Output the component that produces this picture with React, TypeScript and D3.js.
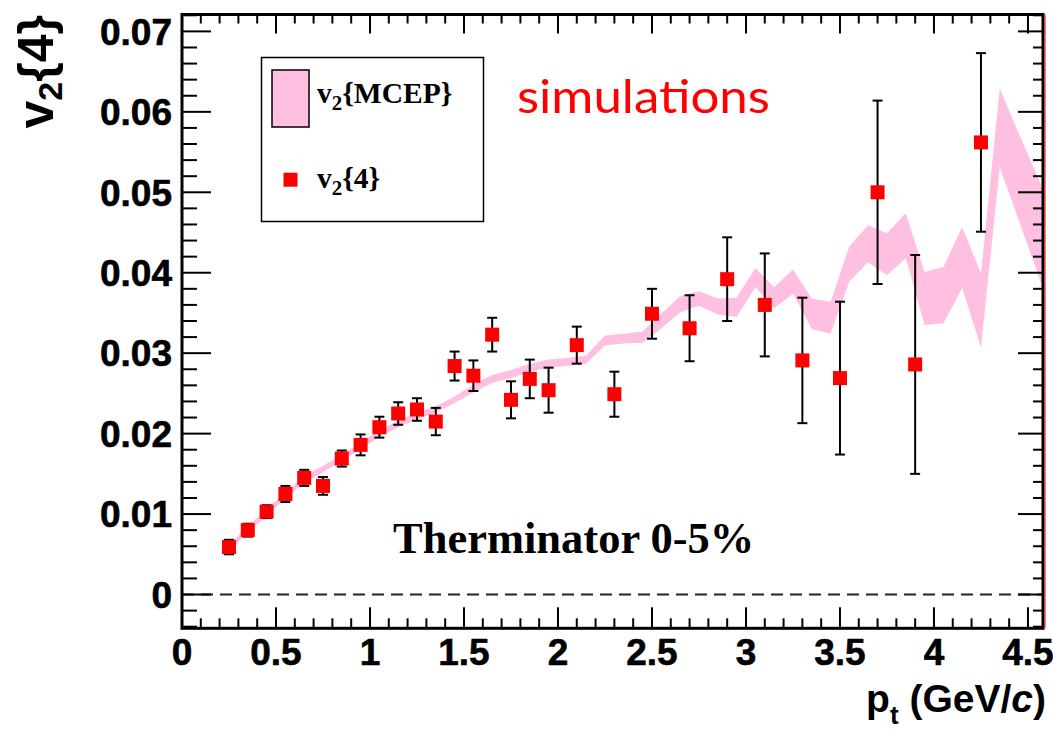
import React from "react";
import * as d3 from "d3";

// v2{4} measured points
const ptValues = [0.25, 0.35, 0.45, 0.55, 0.65, 0.75, 0.85, 0.95, 1.05, 1.15, 1.25, 1.35, 1.45, 1.55, 1.65, 1.75, 1.85, 1.95, 2.1, 2.3, 2.5, 2.7, 2.9, 3.1, 3.3, 3.5, 3.7, 3.9, 4.25];
const v24Values = [0.0059, 0.0080, 0.0103, 0.0125, 0.0145, 0.0135, 0.0169, 0.0186, 0.0208, 0.0225, 0.0230, 0.0215, 0.0284, 0.0272, 0.0323, 0.0242, 0.0268, 0.0254, 0.0310, 0.0249, 0.0349, 0.0331, 0.0392, 0.0360, 0.0291, 0.0269, 0.0500, 0.0286, 0.0562];
const v24Errors = [0.0009, 0.0008, 0.0008, 0.0010, 0.0010, 0.0011, 0.0010, 0.0013, 0.0013, 0.0014, 0.0014, 0.0017, 0.0018, 0.0019, 0.0021, 0.0023, 0.0024, 0.0028, 0.0023, 0.0028, 0.0031, 0.0041, 0.0052, 0.0064, 0.0078, 0.0095, 0.0114, 0.0136, 0.0111];

// v2{MCEP} band: bin centres, central values, half widths
const mcepPt = [0.25, 0.35, 0.45, 0.55, 0.65, 0.75, 0.85, 0.95, 1.05, 1.15, 1.25, 1.35, 1.45, 1.55, 1.65, 1.75, 1.85, 1.95, 2.05, 2.15, 2.25, 2.35, 2.45, 2.55, 2.65, 2.75, 2.85, 2.95, 3.05, 3.15, 3.25, 3.35, 3.45, 3.55, 3.65, 3.75, 3.85, 3.95, 4.05, 4.15, 4.25, 4.35, 4.45, 4.55, 4.65];
const mcepValues = [0.0058, 0.0081, 0.0102, 0.0123, 0.0143, 0.0156, 0.0170, 0.0185, 0.0200, 0.0212, 0.0222, 0.0230, 0.0242, 0.0256, 0.0268, 0.0274, 0.0282, 0.0287, 0.0289, 0.0292, 0.0316, 0.0318, 0.0320, 0.0340, 0.0361, 0.0368, 0.0358, 0.0357, 0.0394, 0.0369, 0.0389, 0.0349, 0.0344, 0.0411, 0.0436, 0.0423, 0.0446, 0.0368, 0.0372, 0.0419, 0.0353, 0.0580, 0.0520, 0.0460, 0.0400];
const mcepHalfWidths = [0.0004, 0.0004, 0.0004, 0.0004, 0.0004, 0.0004, 0.0004, 0.0004, 0.0004, 0.0004, 0.0004, 0.0004, 0.0004, 0.0005, 0.0005, 0.0005, 0.0005, 0.0005, 0.0005, 0.0005, 0.0006, 0.0006, 0.0007, 0.0009, 0.0010, 0.0009, 0.0010, 0.0012, 0.0012, 0.0013, 0.0015, 0.0019, 0.0020, 0.0022, 0.0023, 0.0026, 0.0028, 0.0033, 0.0035, 0.0038, 0.0046, 0.0049, 0.0054, 0.0060, 0.0066];

const xMajorTicks = [0, 0.5, 1, 1.5, 2, 2.5, 3, 3.5, 4, 4.5];
const xTickLabels = ["0", "0.5", "1", "1.5", "2", "2.5", "3", "3.5", "4", "4.5"];
const yMajorTicks = [0, 0.01, 0.02, 0.03, 0.04, 0.05, 0.06, 0.07];
const yTickLabels = ["0", "0.01", "0.02", "0.03", "0.04", "0.05", "0.06", "0.07"];

const W = 1053;
const H = 732;
const left = 182;
const right = 1043;
const top = 14.5;
const bottom = 628.3;

const PINK = "#ffbfe0";
const RED = "#ff0000";
const SANS = "'Liberation Sans', Arial, Helvetica, sans-serif";
const SERIF = "'Liberation Serif', 'Times New Roman', serif";

export default function App() {
  const x = d3.scaleLinear().domain([0, 4.58]).range([left, right]);
  const y = d3.scaleLinear().domain([-0.0042, 0.0721]).range([bottom, top]);

  const xMinor = d3.range(0, 46).map((i) => i / 10).filter((v) => Math.round(v * 10) % 5 !== 0);
  const yMinor = d3.range(-2, 37).map((i) => i * 0.002).filter((v) => Math.round(v * 1000) % 10 !== 0);

  const band = d3
    .area<number>()
    .x((_, i) => x(mcepPt[i]))
    .y0((_, i) => y(mcepValues[i] - mcepHalfWidths[i]))
    .y1((_, i) => y(mcepValues[i] + mcepHalfWidths[i]))
    .curve(d3.curveLinear);

  const capHalf = 5;
  const markerSize = 14;

  return (
    <svg width={W} height={H} style={{ position: "absolute", left: 0, top: 0, background: "#fff" }}>
      <defs>
        <clipPath id="plotClip">
          <rect x={left} y={top} width={right - left} height={bottom - top} />
        </clipPath>
      </defs>

      {/* zero reference line */}
      <line x1={left} x2={right} y1={y(0)} y2={y(0)} stroke="#222" strokeWidth={2} strokeDasharray="12 7" />

      {/* MCEP band */}
      <path d={band(mcepValues) || ""} fill={PINK} stroke="none" clipPath="url(#plotClip)" />

      {/* v2{4} error bars */}
      <g stroke="#000" strokeWidth={2}>
        {ptValues.map((pt, i) => {
          const cx = x(pt);
          const y1 = y(v24Values[i] + v24Errors[i]);
          const y2 = y(v24Values[i] - v24Errors[i]);
          return (
            <g key={i}>
              <line x1={cx} x2={cx} y1={y1} y2={y2} />
              <line x1={cx - capHalf} x2={cx + capHalf} y1={y1} y2={y1} />
              <line x1={cx - capHalf} x2={cx + capHalf} y1={y2} y2={y2} />
            </g>
          );
        })}
      </g>

      {/* v2{4} markers */}
      <g fill={RED}>
        {ptValues.map((pt, i) => (
          <rect key={i} x={x(pt) - markerSize / 2} y={y(v24Values[i]) - markerSize / 2} width={markerSize} height={markerSize} />
        ))}
      </g>

      {/* frame ticks */}
      <g stroke="#000" strokeWidth={2}>
        {xMajorTicks.map((t) => (
          <g key={"xm" + t}>
            <line x1={x(t)} x2={x(t)} y1={bottom} y2={bottom - 21} />
            <line x1={x(t)} x2={x(t)} y1={top} y2={top + 19} />
          </g>
        ))}
        {xMinor.map((t) => (
          <g key={"xn" + t}>
            <line x1={x(t)} x2={x(t)} y1={bottom} y2={bottom - 10} />
            <line x1={x(t)} x2={x(t)} y1={top} y2={top + 9} />
          </g>
        ))}
        {yMajorTicks.map((t) => (
          <g key={"ym" + t}>
            <line x1={left} x2={left + 29} y1={y(t)} y2={y(t)} />
            <line x1={right} x2={right - 25} y1={y(t)} y2={y(t)} />
          </g>
        ))}
        {yMinor.map((t) => (
          <g key={"yn" + t}>
            <line x1={left} x2={left + 15} y1={y(t)} y2={y(t)} />
            <line x1={right} x2={right - 10} y1={y(t)} y2={y(t)} />
          </g>
        ))}
      </g>

      {/* frame */}
      <rect x={left} y={top} width={right - left} height={bottom - top} fill="none" stroke="#000" strokeWidth={3} />
      <line x1={right + 2} x2={right + 2} y1={top} y2={bottom} stroke={RED} strokeWidth={1} />

      {/* tick labels */}
      <g fontFamily={SANS} fontWeight="bold" fontSize={37} fill="#000" stroke="#000" strokeWidth={0.6}>
        {yMajorTicks.map((t, i) => (
          <text key={"yl" + t} x={172} y={y(t)} dy="0.36em" textAnchor="end">
            {yTickLabels[i]}
          </text>
        ))}
        {xMajorTicks.map((t, i) => (
          <text key={"xl" + t} x={x(t)} y={665} textAnchor="middle">
            {xTickLabels[i]}
          </text>
        ))}
      </g>

      {/* axis titles */}
      <text x={1046} y={712} textAnchor="end" fontFamily={SANS} fontWeight="bold" fontSize={39} fill="#000">
        p<tspan fontSize={26} dy={12}>t</tspan>
        <tspan dy={-12}> (GeV/</tspan>
        <tspan fontStyle="italic">c</tspan>
        <tspan>)</tspan>
      </text>
      <text
        transform="translate(53,15) rotate(-90)"
        textAnchor="end"
        fontFamily={SANS}
        fontWeight="bold"
        fontSize={50}
        fill="#000"
      >
        v<tspan fontSize={34} dy={9}>2</tspan>
        <tspan dy={-9}>{"{4}"}</tspan>
      </text>

      {/* legend */}
      <rect x={261.5} y={57.5} width={222} height={164} fill="#fff" stroke="#000" strokeWidth={1.5} />
      <rect x={272} y={70} width={37} height={57} fill={PINK} stroke="#000" strokeWidth={1.5} />
      <text x={317} y={103} fontFamily={SERIF} fontWeight="bold" fontSize={29.5} fill="#000">
        v<tspan fontSize={21} dy={7}>2</tspan>
        <tspan dy={-7}>{"{MCEP}"}</tspan>
      </text>
      <rect x={283.5} y={172.7} width={14} height={14} fill={RED} />
      <text x={317} y={188} fontFamily={SERIF} fontWeight="bold" fontSize={29.5} fill="#000">
        v<tspan fontSize={21} dy={7}>2</tspan>
        <tspan dy={-7}>{"{4}"}</tspan>
      </text>

      {/* annotations */}
      <text x={517} y={113} fontFamily="Lato, 'Open Sans', sans-serif" fontSize={47} fill={RED} textLength={253} lengthAdjust="spacingAndGlyphs">
        simulations
      </text>
      <text x={393} y={553} fontFamily={SERIF} fontWeight="bold" fontSize={44.5} fill="#000">
        Therminator 0-5%
      </text>
    </svg>
  );
}
